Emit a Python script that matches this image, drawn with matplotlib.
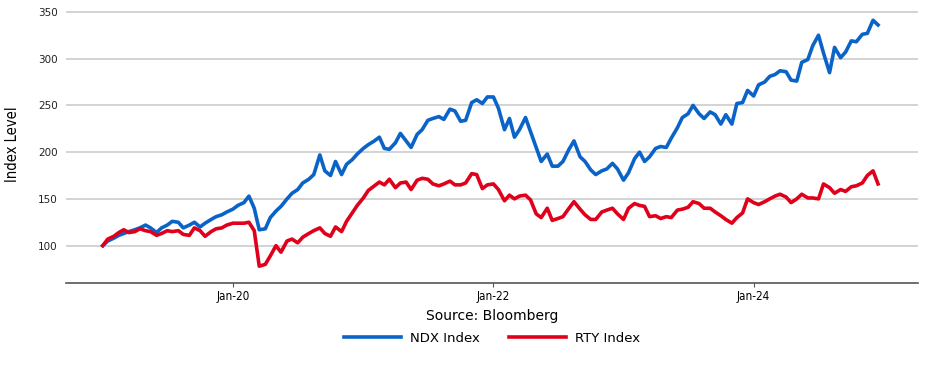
# NDX vs RTY index level, rebased to 100 (semi-monthly readings)
import pandas as pd
import matplotlib.pyplot as plt
import matplotlib.dates as mdates

# data (1st and 15th of each month, Jan-2019 .. Dec-2024)
dates = pd.date_range('2019-01-01', periods=144, freq='SMS')

ndx = [100, 105, 108, 111, 113, 115, 117, 119, 122, 119, 114, 119,
       122, 126, 125, 119, 122, 125, 120, 124, 128, 131, 133, 136,
       139, 143, 146, 153, 140, 117, 118, 130, 137, 142, 150, 156,
       160, 167, 171, 176, 197, 180, 175, 190, 176, 187, 192, 198,
       204, 208, 212, 216, 204, 203, 210, 220, 212, 205, 219, 224,
       234, 236, 238, 235, 246, 244, 233, 234, 253, 256, 252, 259,
       259, 247, 224, 236, 216, 224, 237, 222, 205, 190, 198, 185,
       185, 190, 203, 212, 195, 190, 181, 176, 180, 182, 188, 182,
       170, 178, 193, 200, 190, 195, 204, 206, 205, 215, 226, 237,
       241, 250, 241, 236, 243, 240, 230, 240, 230, 252, 253, 266,
       260, 272, 275, 281, 283, 287, 286, 277, 276, 296, 299, 314,
       325, 306, 285, 312, 301, 307, 319, 318, 326, 327, 341, 336]

rty = [100, 107, 110, 114, 117, 114, 115, 118, 116, 115, 111, 113,
       116, 115, 116, 112, 111, 119, 116, 110, 115, 118, 119, 122,
       124, 124, 124, 125, 116, 78, 80, 89, 100, 93, 105, 107,
       103, 109, 113, 116, 119, 113, 110, 120, 115, 126, 135, 143,
       151, 159, 164, 168, 165, 171, 162, 167, 168, 160, 170, 172,
       171, 166, 164, 166, 169, 165, 165, 167, 177, 176, 161, 165,
       166, 160, 148, 154, 150, 153, 154, 149, 134, 130, 140, 127,
       129, 131, 140, 147, 139, 133, 128, 128, 136, 138, 140, 134,
       128, 140, 145, 143, 142, 131, 132, 129, 131, 130, 138, 139,
       141, 147, 145, 140, 140, 136, 132, 128, 124, 130, 135, 150,
       146, 144, 147, 150, 153, 155, 152, 146, 150, 155, 151, 151,
       150, 166, 162, 156, 160, 158, 163, 164, 167, 175, 180, 166]

series_names = ['NDX Index', 'RTY Index']
series_colors = ['#0a64c8', '#e0001b']

fig = plt.figure(figsize=(9.25, 3.7), dpi=100)
ax = fig.add_axes([0.0714, 0.235, 0.9206, 0.738])

ax.plot(dates, ndx, color=series_colors[0], linewidth=2.6, label=series_names[0])
ax.plot(dates, rty, color=series_colors[1], linewidth=2.6, label=series_names[1])

ax.set_ylim(60, 352)
ax.set_xlim(pd.Timestamp('2018-09-20'), pd.Timestamp('2025-04-05'))
ax.set_yticks([100, 150, 200, 250, 300, 350])

ax.xaxis.set_major_locator(mdates.YearLocator(2, month=1, day=1))
ax.xaxis.set_major_formatter(mdates.DateFormatter('%b-%y'))

for lab in ax.get_xticklabels():
    lab.set_fontstretch('condensed')
ax.tick_params(axis='x', labelsize=8.5, length=3, color='#555555', pad=2)
ax.tick_params(axis='y', labelsize=7.5, length=0, pad=6, labelcolor='#222222')

ax.grid(axis='y', color='#c8c8c8', linewidth=1.1)
ax.set_axisbelow(True)
for s in ['top', 'right', 'left']:
    ax.spines[s].set_visible(False)
ax.spines['bottom'].set_color('#555555')
ax.spines['bottom'].set_linewidth(1.2)

fig.text(0.014, 0.61, 'Index Level', rotation=90, ha='center', va='center',
         fontsize=10.5, fontstretch='condensed')
fig.text(0.532, 0.145, 'Source: Bloomberg', ha='center', va='center', fontsize=10)

fig.legend(loc='center', bbox_to_anchor=(0.532, 0.085), ncol=2, frameon=False,
           fontsize=9.5, handlelength=4.3, columnspacing=2.2, handletextpad=0.7)

fig.savefig('out.png', dpi=100)
